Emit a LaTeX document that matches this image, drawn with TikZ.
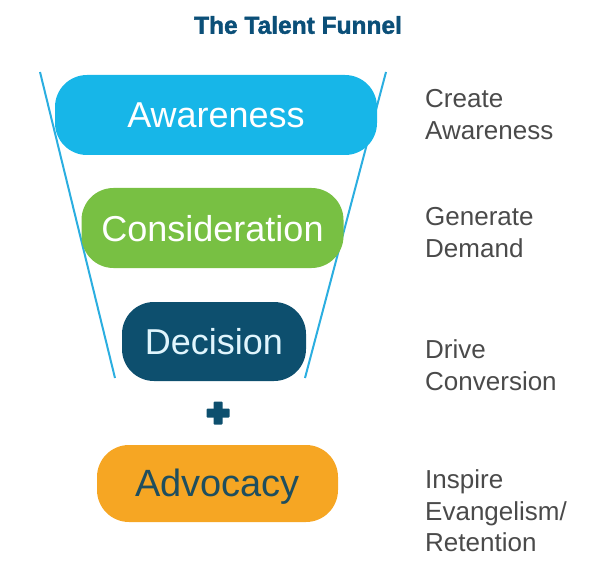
\documentclass[tikz,border=0pt]{standalone}
\usepackage{fontspec}
\setmainfont{Liberation Sans}
\newfontfamily\titlefont[FakeBold=1.6]{Liberation Sans Bold}
\definecolor{funnelline}{HTML}{2BAEE0}
\definecolor{awarec}{HTML}{17B6E8}
\definecolor{considc}{HTML}{78C043}
\definecolor{decic}{HTML}{0D4F6E}
\definecolor{advoc}{HTML}{F6A623}
\definecolor{titlec}{HTML}{0B4F78}
\definecolor{labelc}{HTML}{4A4A4A}
\definecolor{advtext}{HTML}{1F4E5E}
\begin{document}
\begin{tikzpicture}[x=1pt,y=-1pt,
  stage/.style={rounded corners=32pt, inner sep=0pt, text height=26pt, text depth=0pt,
    font=\fontsize{36}{40}\selectfont},
  sidelabel/.style={anchor=north west, inner sep=0pt, align=left, text=labelc,
    font=\fontsize{26}{31.5}\selectfont},
  funnel/.style={draw=funnelline, line width=2pt}]
\useasboundingbox (0,0) rectangle (600,567);
% title
\node[text=titlec, font=\titlefont\fontsize{24.5}{28}\selectfont] (title) at (298,25) {The Talent Funnel};
% funnel sides
\draw[funnel] (40,72) -- (115,378);
\draw[funnel] (386,72) -- (305,378);
% stages
\node[stage, fill=awarec, text=white, minimum width=322pt, minimum height=80pt] (aw) at (216,115) {Awareness};
\node[stage, fill=considc, text=white, minimum width=262pt, minimum height=80pt] (co) at (212.5,228) {Consideration};
\node[stage, fill=decic, text=white!88!cyan, minimum width=184pt, minimum height=79pt] (de) at (214,341.5) {Decision};
\node[stage, fill=advoc, text=advtext, minimum width=241pt, minimum height=77pt, font=\fontsize{38}{42}\selectfont] (ad) at (217.5,483.5) {Advocacy};
% plus sign
\coordinate (plus) at (218,413);
\fill[decic, rounded corners=1pt] ([xshift=-11.5pt,yshift=-4.5pt]plus) rectangle ([xshift=11.5pt,yshift=4.5pt]plus);
\fill[decic, rounded corners=1pt] ([xshift=-4.5pt,yshift=-11.5pt]plus) rectangle ([xshift=4.5pt,yshift=11.5pt]plus);
% labels
\node[sidelabel] (l1) at (425,89.5) {Create\\Awareness};
\node[sidelabel] (l2) at (425,207.5) {Generate\\Demand};
\node[sidelabel] (l3) at (425,339.5) {Drive\\Conversion};
\node[sidelabel] (l4) at (425,469.5) {Inspire\\Evangelism/\\Retention};
\end{tikzpicture}
\end{document}
